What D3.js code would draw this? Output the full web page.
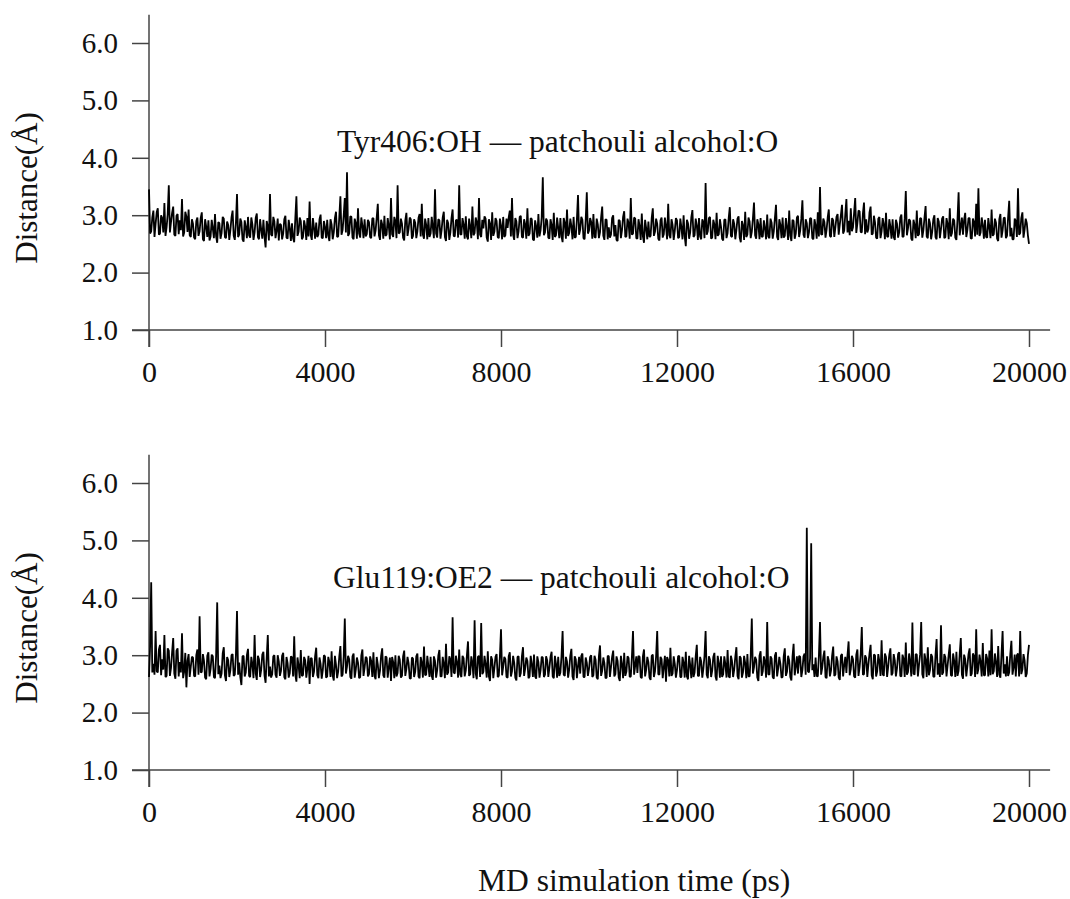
<!DOCTYPE html>
<html>
<head>
<meta charset="utf-8">
<script src="https://cdn.jsdelivr.net/npm/d3@7"></script>
<style>
body { margin: 0; background: #fff; }
text { font-family: "Liberation Serif", "Times New Roman", serif; fill: #111; }
</style>
</head>
<body>
<div id="area1"></div>
<script>
// sampling of the MD trajectory (ps between frames)
const timeStep = 25;
const xTicks = [0, 4000, 8000, 12000, 16000, 20000];
const yTicks = [1, 2, 3, 4, 5, 6];
const panelTitles = ["Tyr406:OH \u2014 patchouli alcohol:O", "Glu119:OE2 \u2014 patchouli alcohol:O"];
const yTitle = "Distance(\u00c5)";
const xTitle = "MD simulation time (ps)";

// Tyr406:OH - patchouli alcohol:O distance (Å), one row = 1000 ps
const tyrDistance = [
  3.45,2.68,2.72,2.96,3.08,2.62,2.85,3.05,3.12,2.66,2.68,3.00,2.95,2.70,3.21,2.64,2.79,3.02,3.52,2.70,2.88,3.04,3.15,2.66,2.64,2.99,3.02,2.67,2.91,2.74,3.28,2.63,2.70,3.06,2.98,2.71,3.10,2.65,2.62,2.93,
  2.85,2.61,2.58,2.90,2.96,2.64,2.72,2.95,3.05,2.58,2.55,2.93,2.80,2.62,2.91,2.56,2.63,2.92,2.77,2.60,3.02,2.63,2.52,2.88,2.86,2.59,2.69,2.97,2.94,2.62,2.60,2.89,2.83,2.57,2.74,2.96,3.08,2.64,2.57,2.86,
  3.37,2.62,2.66,2.94,2.88,2.58,2.54,2.91,2.79,2.60,2.97,2.65,2.61,2.96,2.84,2.57,2.70,2.95,3.03,2.62,2.58,2.93,2.75,2.59,2.92,2.63,2.44,2.90,2.81,2.56,3.37,2.66,2.64,2.97,2.89,2.60,2.73,2.94,2.56,2.85,
  2.83,2.58,2.68,2.93,2.99,2.61,2.59,2.92,2.77,2.55,2.86,2.60,2.53,2.94,3.33,2.64,2.71,2.96,2.90,2.58,2.62,2.91,2.80,2.57,2.95,2.63,3.24,2.66,2.57,2.95,2.78,2.59,2.87,2.62,2.66,2.93,3.01,2.61,2.60,2.90,
  2.79,2.60,2.92,2.64,2.55,2.93,2.84,2.58,2.70,2.95,3.06,2.62,2.63,2.97,3.33,2.66,2.74,3.00,3.30,2.70,3.75,2.64,2.68,2.98,2.97,2.61,2.58,2.94,2.86,2.59,3.12,2.68,2.61,2.96,2.82,2.60,2.93,2.63,2.67,2.92,
  2.88,2.62,2.60,2.94,2.95,2.63,2.73,2.96,3.20,2.65,2.57,2.92,2.84,2.59,2.99,2.64,2.66,2.95,2.81,2.58,3.30,2.67,2.62,2.97,2.90,2.60,3.52,2.68,2.70,2.94,2.85,2.61,2.56,2.91,3.04,2.64,2.76,2.96,2.93,2.59,
  2.64,2.93,2.87,2.60,2.72,2.95,3.02,2.63,3.20,2.66,2.59,2.94,2.83,2.58,2.95,2.62,2.68,2.97,2.79,2.60,3.45,2.68,2.61,2.93,2.91,2.59,2.74,2.96,3.06,2.62,2.55,2.92,2.86,2.57,2.70,2.95,3.10,2.64,2.63,2.91,
  2.92,2.61,3.52,2.67,2.66,2.95,2.84,2.59,2.98,2.63,2.58,2.94,2.80,2.60,3.15,2.65,2.69,2.96,2.88,2.58,3.30,2.66,2.62,2.92,2.77,2.98,2.94,2.61,2.54,2.93,2.85,2.57,3.05,2.64,2.71,2.95,2.90,2.62,2.60,2.94,
  2.82,2.58,2.97,2.62,2.65,2.94,2.78,2.96,3.08,2.63,3.30,2.66,2.57,2.95,2.89,2.60,2.72,2.97,2.99,2.62,2.61,2.93,2.84,2.59,3.12,2.64,2.68,2.95,2.93,2.58,2.56,2.91,2.80,2.61,3.02,2.63,2.74,2.96,3.66,2.65,
  2.70,2.94,2.90,2.61,2.59,2.93,2.83,2.57,3.04,2.62,2.65,2.96,2.78,2.60,2.95,2.63,2.53,2.95,2.87,2.59,3.10,2.64,2.69,2.94,2.81,2.58,2.97,2.61,2.62,2.93,3.35,2.66,2.75,2.97,2.92,2.60,2.58,2.92,3.40,2.68,
  2.73,2.95,2.88,2.59,3.02,2.62,2.61,2.94,2.84,2.60,2.70,2.96,3.15,2.64,2.57,2.93,2.92,2.58,2.79,2.61,2.66,2.95,3.00,2.63,2.83,2.57,2.55,2.92,2.90,2.60,2.74,2.97,3.07,2.62,2.63,2.94,2.86,2.59,3.30,2.66,
  2.68,2.96,2.94,2.60,2.59,2.93,2.81,2.57,3.03,2.63,2.52,2.92,2.77,2.58,2.89,2.62,2.64,2.95,3.12,2.64,2.71,2.94,2.85,2.59,2.56,2.91,2.96,2.61,2.67,2.96,2.80,2.58,3.20,2.65,2.60,2.93,2.83,2.57,2.73,2.95,
  2.91,2.60,2.62,2.94,2.79,2.58,3.00,2.63,2.46,2.92,2.86,2.59,2.70,2.96,3.09,2.62,2.65,2.94,2.82,2.57,2.95,2.63,2.58,2.93,2.88,2.60,3.56,2.66,2.72,2.95,2.97,2.59,2.61,2.92,2.84,2.58,3.04,2.64,2.67,2.93,
  2.80,2.59,2.56,2.92,2.93,2.60,2.69,2.95,3.14,2.64,2.62,2.93,2.85,2.58,2.74,2.94,2.98,2.61,2.53,2.90,2.82,2.57,3.06,2.62,2.66,2.96,2.89,2.60,2.71,2.94,3.22,2.65,2.59,2.93,2.84,2.58,2.95,2.62,2.63,2.91,
  2.77,2.58,3.01,2.63,2.60,2.94,2.87,2.59,2.72,2.95,3.18,2.62,2.57,2.93,2.83,2.60,2.96,2.61,2.64,2.95,2.79,2.57,3.08,2.64,2.55,2.92,2.90,2.59,2.68,2.96,2.99,2.62,2.73,2.94,3.26,2.66,2.61,2.93,2.86,2.60,
  2.70,2.95,2.94,2.60,2.58,2.93,2.82,2.59,3.05,2.63,3.49,2.67,2.66,2.94,2.88,2.61,2.75,2.96,3.10,2.64,2.62,2.95,2.91,2.62,2.79,2.97,3.02,2.66,2.84,3.00,3.18,2.68,2.73,3.02,3.28,2.70,2.90,2.65,3.12,2.72,
  2.79,3.04,3.30,2.69,2.86,3.08,3.07,2.71,2.70,3.03,3.22,2.67,2.93,2.70,2.76,3.05,3.15,2.66,2.68,2.99,2.88,2.61,2.59,2.94,2.97,2.60,2.72,2.95,2.84,2.58,3.04,2.63,2.62,2.93,2.80,2.59,2.93,2.62,2.57,2.92,
  2.85,2.61,2.70,2.96,3.01,2.62,2.63,2.94,3.42,2.65,2.77,2.93,2.90,2.59,2.56,2.92,2.83,2.60,3.08,2.64,2.67,2.95,2.94,2.61,2.74,2.96,3.16,2.63,2.60,2.94,2.86,2.58,2.71,2.93,3.00,2.62,2.58,2.95,2.89,2.60,
  2.76,2.94,2.98,2.60,2.62,2.95,2.85,2.58,3.12,2.63,2.69,2.94,2.91,2.61,2.57,2.93,3.40,2.65,2.80,2.96,2.66,2.92,3.04,2.62,2.74,2.95,2.95,2.60,2.59,2.94,2.88,2.63,3.20,2.66,3.47,2.64,2.70,2.96,2.83,2.59,
  2.92,2.62,2.61,2.95,2.79,2.60,3.10,2.64,2.67,2.94,2.87,2.59,2.55,2.93,3.02,2.61,2.73,2.95,2.96,2.60,2.64,2.96,3.25,2.63,2.78,2.58,2.58,2.94,2.90,2.62,3.47,2.66,2.69,2.95,3.05,2.61,2.75,2.94,2.86,2.65,
  2.50
];

// Glu119:OE2 - patchouli alcohol:O distance (Å), one row = 1000 ps
const gluDistance = [
  2.62,3.15,4.27,2.70,2.85,2.66,3.42,2.72,2.70,3.10,3.18,2.65,2.93,2.75,3.35,2.62,2.64,3.12,3.08,2.64,2.78,3.05,3.30,2.68,2.59,3.08,3.12,2.63,2.88,2.70,3.38,2.60,2.72,3.04,2.44,2.90,3.02,2.62,2.80,2.97,
  2.96,2.64,2.63,3.00,3.10,2.66,3.68,2.70,2.71,3.02,2.90,2.61,2.58,2.99,3.05,2.63,2.76,3.01,2.98,2.62,2.60,2.98,3.92,2.67,2.82,2.60,2.68,3.03,3.14,2.65,2.55,2.97,2.91,2.62,2.74,3.00,3.02,2.64,2.66,2.99,
  3.77,2.66,2.87,2.62,2.48,2.98,2.99,2.63,2.70,3.00,3.11,2.64,2.62,2.97,2.84,2.60,3.35,2.68,2.57,2.99,2.93,2.62,2.75,3.01,3.06,2.65,2.52,2.96,3.35,2.63,2.80,2.61,2.67,2.98,3.00,2.66,2.61,3.00,2.89,2.64,
  2.73,2.99,3.04,2.62,2.58,2.97,2.86,2.61,2.69,2.98,2.96,2.63,3.33,2.66,2.54,2.96,2.82,2.60,3.09,2.64,2.65,2.97,2.91,2.61,2.77,2.99,2.50,2.95,2.94,2.62,2.71,2.98,3.13,2.65,2.60,2.96,2.85,2.59,2.74,3.00,
  2.98,2.61,2.63,2.97,2.88,2.62,3.07,2.64,2.56,2.99,2.83,2.60,2.72,2.98,3.16,2.63,2.66,2.97,3.64,2.68,2.80,2.99,2.93,2.62,2.59,2.98,3.03,2.61,2.75,2.96,2.87,2.60,2.62,2.99,3.10,2.64,2.78,2.97,2.95,2.63,
  2.67,2.98,2.90,2.62,3.05,2.64,2.58,2.97,2.84,2.60,2.73,2.99,3.12,2.65,2.61,2.98,2.96,2.61,2.79,2.96,2.55,2.97,2.88,2.60,3.00,2.63,2.69,2.99,2.92,2.61,2.64,2.98,3.08,2.64,2.76,2.97,2.86,2.60,2.59,2.96,
  2.94,2.62,2.71,2.98,3.03,2.63,2.60,2.97,2.87,2.61,3.15,2.65,2.66,2.99,2.81,2.62,2.97,2.64,2.57,2.98,2.90,2.61,2.74,2.99,3.09,2.63,2.63,2.97,2.85,2.60,3.20,2.66,2.70,2.98,2.92,2.62,3.66,2.70,2.68,2.99,
  2.88,2.61,3.10,2.66,2.62,2.99,2.95,2.63,2.73,3.00,3.24,2.64,2.67,2.98,2.86,2.60,3.61,2.68,2.58,2.97,2.99,2.62,3.56,2.67,2.71,2.99,2.84,2.61,3.07,2.63,2.55,2.98,2.92,2.60,2.78,2.97,3.02,2.62,2.64,2.98,
  3.45,2.65,2.80,2.97,2.93,2.62,2.61,2.98,3.05,2.63,2.72,2.99,2.87,2.61,2.56,2.97,2.98,2.62,2.69,2.98,3.14,2.64,2.77,2.96,2.90,2.60,2.63,2.99,2.84,2.62,3.01,2.63,2.59,2.98,2.88,2.61,2.74,2.97,2.96,2.62,
  2.66,2.98,2.91,2.62,2.78,2.97,3.06,2.63,2.60,2.99,2.85,2.61,2.97,2.64,2.70,2.98,3.42,2.66,2.64,2.97,2.89,2.61,2.75,2.99,3.11,2.63,2.57,2.98,2.93,2.60,2.81,2.97,2.68,2.99,3.03,2.62,2.62,2.96,2.87,2.64,
  2.76,2.97,3.00,2.62,2.65,2.99,2.92,2.61,2.58,2.98,3.17,2.64,2.73,2.96,2.86,2.60,2.61,2.99,2.98,2.62,2.79,2.97,3.08,2.63,2.67,2.98,2.90,2.61,2.55,2.99,2.84,2.60,3.04,2.64,2.71,2.98,2.95,2.62,2.63,2.97,
  3.42,2.66,2.82,2.98,2.69,2.99,2.97,2.62,2.60,2.98,3.10,2.63,2.75,2.97,2.88,2.61,2.57,2.99,3.01,2.62,2.72,2.98,3.42,2.67,2.66,2.97,2.93,2.60,2.79,2.99,2.54,2.97,2.91,2.63,3.13,2.64,2.68,2.98,2.85,2.61,
  2.74,2.98,2.99,2.62,2.62,2.97,2.87,2.61,3.06,2.63,2.58,2.99,2.83,2.60,2.96,2.62,2.70,2.98,3.18,2.64,2.64,2.97,2.89,2.61,2.77,2.99,3.42,2.66,2.60,2.98,2.92,2.62,2.73,2.97,3.04,2.63,2.56,2.99,2.86,2.61,
  2.98,2.62,2.67,2.98,2.84,2.61,3.09,2.63,2.61,2.99,2.90,2.62,2.75,2.97,3.14,2.64,2.58,2.98,2.95,2.61,2.70,2.99,2.86,2.60,3.02,2.63,2.63,2.98,3.64,2.68,2.79,2.97,2.92,2.61,2.55,2.99,3.07,2.64,2.72,2.98,
  2.88,2.61,3.58,2.67,2.66,2.98,2.94,2.62,2.59,2.99,3.05,2.63,2.77,2.97,2.85,2.61,2.62,2.98,3.12,2.64,2.71,2.99,2.91,2.62,2.56,2.97,3.20,2.65,2.80,2.98,2.68,2.99,2.97,2.62,2.74,2.98,3.03,2.66,5.22,2.72,
  2.70,2.95,4.95,2.74,2.84,2.62,2.96,2.64,2.63,2.99,3.58,2.66,2.78,2.97,3.08,2.62,2.60,2.98,2.91,2.63,2.73,2.99,3.15,2.64,2.66,2.98,2.89,2.61,2.57,2.99,3.02,2.63,2.82,2.97,2.69,3.00,3.24,2.65,2.76,2.99,
  2.93,2.63,2.61,3.01,3.10,2.64,2.79,3.02,3.49,2.66,2.67,3.00,2.95,2.62,2.84,3.03,3.18,2.65,2.58,3.01,3.00,2.63,2.72,3.02,2.89,2.64,3.26,2.67,2.64,3.03,2.97,2.62,2.80,3.01,3.12,2.65,2.69,3.02,2.91,2.63,
  2.77,3.02,3.05,2.64,2.63,3.01,2.94,2.62,3.22,2.66,2.71,3.03,2.88,2.63,3.57,2.68,2.66,3.02,3.01,2.63,2.83,3.01,3.58,2.67,2.60,3.03,2.92,2.62,3.14,2.65,2.74,3.02,2.97,2.63,2.62,3.00,3.28,2.66,2.86,2.62,
  3.52,2.66,2.70,3.02,2.96,2.63,2.82,3.01,3.19,2.65,2.64,3.03,2.90,2.62,3.06,2.64,2.73,3.02,3.30,2.66,2.59,3.01,2.93,2.63,2.81,3.02,3.12,2.64,2.68,3.03,2.99,2.62,3.45,2.67,2.76,3.01,2.88,2.63,3.21,2.65,
  2.65,3.02,2.94,2.63,3.08,2.65,3.45,2.67,2.72,3.03,2.87,2.62,3.16,2.66,2.61,3.01,3.42,2.68,2.84,2.63,2.98,2.64,2.70,3.02,3.25,2.66,2.79,3.01,2.63,3.00,3.03,2.63,3.42,2.67,2.75,3.02,2.91,2.62,2.68,3.00,
  3.18
];

const w1 = 1070;
const h1 = 899;
const axisColor = "#444";
const tickLen = 17;

// Create SVG element
let svg1 = d3.select("#area1")
            .append("svg")
            .attr("width", w1)
            .attr("height", h1);

// shared time scale
const x = d3.scaleLinear()
    .domain([0, 20000])
    .range([149, 1029]);

function drawPanel(values, title, top, titleX, titleY) {
    const y = d3.scaleLinear()
        .domain([1, 6])
        .range([top + 330, top + 43]);

    let g = svg1.append("g");

    // x axis
    let gx = g.append("g")
        .attr("transform", "translate(0," + y(1) + ")")
        .call(d3.axisBottom(x).tickValues(xTicks).tickSize(tickLen).tickSizeOuter(0).tickFormat(d3.format("d")));
    gx.select(".domain").remove();
    gx.selectAll(".tick line").attr("stroke", axisColor).attr("stroke-width", 1.5);
    gx.selectAll(".tick text")
        .attr("y", 52).attr("dy", null)
        .attr("font-size", 30).attr("font-family", null).attr("fill", "#111");
    gx.append("line")
        .attr("x1", x(0) - tickLen).attr("x2", x(20480))
        .attr("stroke", axisColor).attr("stroke-width", 1.5);

    // y axis
    let gy = g.append("g")
        .attr("transform", "translate(" + x(0) + ",0)")
        .call(d3.axisLeft(y).tickValues(yTicks).tickSize(tickLen).tickSizeOuter(0).tickFormat(d3.format(".1f")));
    gy.select(".domain").remove();
    gy.selectAll(".tick line").attr("stroke", axisColor).attr("stroke-width", 1.5);
    gy.selectAll(".tick text")
        .attr("x", -31)
        .attr("font-size", 29).attr("font-family", null).attr("fill", "#111");
    gy.append("line")
        .attr("y1", y(6.49)).attr("y2", y(1) + tickLen)
        .attr("stroke", axisColor).attr("stroke-width", 1.5);

    // distance trace
    const line = d3.line()
        .x((d, i) => x(i * timeStep))
        .y(d => y(d));
    g.append("path")
        .datum(values)
        .attr("d", line)
        .attr("fill", "none")
        .attr("stroke", "#000")
        .attr("stroke-width", 1.8)
        .attr("stroke-linejoin", "bevel");

    // pair label
    g.append("text")
        .attr("x", titleX)
        .attr("y", titleY)
        .attr("font-size", 31.5)
        .text(title);

    // y title
    g.append("text")
        .attr("transform", "translate(37," + (top + 188) + ") rotate(-90)")
        .attr("text-anchor", "middle")
        .attr("font-size", 31)
        .text(yTitle);
}

drawPanel(tyrDistance, panelTitles[0], 0, 337, 152);
drawPanel(gluDistance, panelTitles[1], 440, 333, 588);

svg1.append("text")
    .attr("x", 478)
    .attr("y", 891)
    .attr("font-size", 31.5)
    .text(xTitle);
</script>
</body>
</html>
